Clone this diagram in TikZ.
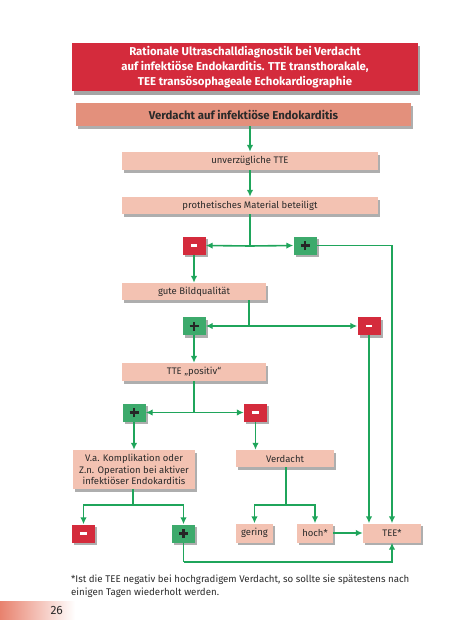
\documentclass[tikz,border=0pt]{standalone}
\usepackage{fontspec}
\setmainfont{Fira Sans}
\usetikzlibrary{shadows,arrows.meta}
\definecolor{titlered}{HTML}{D42B3C}
\definecolor{headc}{HTML}{E3907C}
\definecolor{boxc}{HTML}{F3C2B2}
\definecolor{plusg}{HTML}{3DAA6C}
\definecolor{lineg}{HTML}{1FA55B}
\definecolor{textc}{HTML}{2A2A2A}
\definecolor{bandc}{HTML}{E8826E}
\newcommand{\minusbar}{\textcolor{white}{\rule{6.5pt}{2.8pt}}}
\newcommand{\plussign}{\textcolor{black!85}{\makebox[9pt][l]{\rlap{\rule[3.3pt]{9pt}{2.5pt}}\hspace{3.25pt}\rule{2.5pt}{9pt}}}}
\begin{document}
\begin{tikzpicture}[x=1pt,y=-1pt,
  shad/.style={drop shadow={shadow xshift=2pt,shadow yshift=-2.5pt,opacity=0.45,fill=black!70}},
  fbox/.style={rectangle,inner sep=0pt,fill=boxc,text=textc,shad,font=\fontsize{9.5}{11.5}\selectfont,align=center},
  pm/.style={rectangle,inner sep=0pt,minimum width=23pt,minimum height=18pt,shad},
  plusb/.style={pm,fill=plusg},
  minusb/.style={pm,fill=titlered},
  line/.style={draw=lineg,line width=1.6pt},
  conn/.style={line,-{Latex[length=7pt,width=6.5pt]}}
]
\useasboundingbox (0,0) rectangle (454,640);
% page band
\shade[left color=bandc,right color=white] (0,601) rectangle (75,619);
\node[anchor=west,font=\fontsize{12}{12}\selectfont,text=textc] (pg) at (47,610) {26};

\node[rectangle,fill=titlered,text=white,minimum width=346pt,minimum height=46pt,align=center,
  font=\fontsize{11.4}{14.8}\selectfont\bfseries,
  drop shadow={shadow xshift=2pt,shadow yshift=-3.5pt,opacity=0.5,fill=black!70}] (title) at (245,67)
  {Rationale Ultraschalldiagnostik bei Verdacht\\auf infektiöse Endokarditis. TTE transthorakale,\\TEE transösophageale Echokardiographie};

\node[fbox,fill=headc,minimum width=335pt,minimum height=23pt,font=\fontsize{11.4}{13}\selectfont\bfseries] (head) at (243.5,114.5) {Verdacht auf infektiöse Endokarditis};

\node[fbox,minimum width=256pt,minimum height=18pt] (tte) at (250,161) {unverzügliche TTE};
\node[fbox,minimum width=256pt,minimum height=17pt] (prot) at (250,205.5) {prothetisches Material beteiligt};
\node[minusb] (m1) at (194,245.5) {\minusbar};
\node[plusb] (p1) at (305,245.5) {\plussign};
\node[fbox,minimum width=144pt,minimum height=17pt] (gute) at (194,291.5) {gute Bildqualität};
\node[plusb] (p2) at (194,326) {\plussign};
\node[minusb] (m2) at (369,326) {\minusbar};
\node[fbox,minimum width=144pt,minimum height=18pt] (pos) at (194,372) {TTE „positiv“};
\node[plusb] (p3) at (134,412.5) {\plussign};
\node[minusb] (m3) at (255.5,412.5) {\minusbar};
\node[fbox,minimum width=122pt,minimum height=39pt] (va) at (134,469.5) {V.a. Komplikation oder\\Z.n. Operation bei aktiver\\infektiöser Endokarditis};
\node[fbox,minimum width=98pt,minimum height=17pt] (verd) at (285,458.5) {Verdacht};
\node[minusb] (m4) at (83.5,533.5) {\minusbar};
\node[plusb] (p4) at (183.5,533.5) {\plussign};
\node[fbox,minimum width=37pt,minimum height=19pt] (ger) at (254.5,533) {gering};
\node[fbox,minimum width=36pt,minimum height=19pt] (hoch) at (315,533) {hoch*};
\node[fbox,minimum width=58pt,minimum height=19pt] (tee) at (392,533) {TEE*};

\node[anchor=north west,align=left,text=textc,font=\fontsize{9.7}{12.5}\selectfont,inner sep=0pt] (fn) at (71,575)
  {*Ist die TEE negativ bei hochgradigem Verdacht, so sollte sie spätestens nach\\einigen Tagen wiederholt werden.};

% connectors
\coordinate (j1) at (250,246);
\coordinate (j2) at (249,326);
\coordinate (j3) at (194,412.5);
\coordinate (j4) at (133,505);
\coordinate (j5) at (286,505);
\coordinate (j6) at (183.5,562);

\draw[conn] (tte.north |- head.south) -- (tte.north);
\draw[conn] (tte) -- (prot);
\draw[line] (prot.south) -- (j1);
\draw[conn] (j1) -- (m1.east);
\draw[conn] (j1) -- (p1.west);
\draw[conn] (p1.east) -| (tee.north);
\draw[conn] (m1) -- (gute);
\draw[line] (gute.south -| j2) -- (j2);
\draw[conn] (j2) -- (p2.east);
\draw[conn] (j2) -- (m2.west);
\draw[conn] (m2.south) -- (m2.south |- tee.north);
\draw[conn] (p2) -- (pos);
\draw[line] (pos.south) -- (j3);
\draw[conn] (j3) -- (p3.east);
\draw[conn] (j3) -- (m3.west);
\draw[conn] (p3) -- (va);
\draw[conn] (m3.south) -- (m3.south |- verd.north);
\draw[line] (va.south -| j4) -- (j4);
\draw[conn] (j4) -| (m4.north);
\draw[conn] (j4) -| (p4.north);
\draw[line] (verd.south -| j5) -- (j5);
\draw[conn] (j5) -| (ger.north);
\draw[conn] (j5) -| (hoch.north);
\draw[conn] (hoch) -- (tee);
\draw[line] (p4.south) -- (j6);
\draw[conn] (j6) -| (tee.south);
\end{tikzpicture}
\end{document}
